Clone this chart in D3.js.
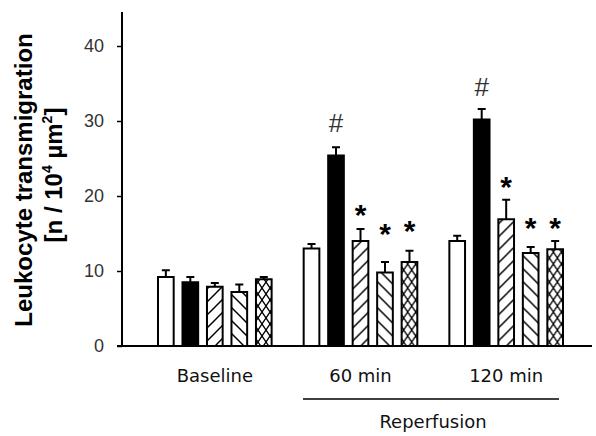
<!DOCTYPE html>
<html>
<head>
<meta charset="utf-8">
<title>Leukocyte transmigration</title>
<script src="https://cdnjs.cloudflare.com/ajax/libs/d3/7.8.5/d3.min.js"></script>
<style>
    body, html { margin: 0; padding: 0; background: #fff; }
    svg { display: block; font-family: Arial, "Liberation Sans", sans-serif; }
</style>
</head>
<body>
<div id="chart"></div>
<script>
    // groups and series
    var groups = ['Baseline', '60 min', '120 min'];
    var series = ['open', 'solid', 'fwd', 'back', 'cross'];
    var means = [
        [9.2, 8.5, 7.9, 7.2, 8.9],
        [13.0, 25.4, 14.0, 9.8, 11.2],
        [14.0, 30.2, 16.9, 12.4, 12.9]
    ];
    var errTop = [
        [10.1, 9.2, 8.4, 8.2, 9.2],
        [13.6, 26.5, 15.6, 11.2, 12.7],
        [14.7, 31.6, 19.5, 13.2, 14.0]
    ];
    // significance marks: [group, series, symbol, y value]
    var marks = [
        [1, 1, '#', 29.9], [1, 2, '*', 18.1], [1, 3, '*', 15.6], [1, 4, '*', 16.0],
        [2, 1, '#', 34.7], [2, 2, '*', 21.9], [2, 3, '*', 16.4], [2, 4, '*', 16.4]
    ];
    var yTicks = [0, 10, 20, 30, 40];

    var W = 596, H = 436;
    var svg = d3.select('#chart').append('svg').attr('width', W).attr('height', H);

    var defs = svg.append('defs');
    function hatch(id, d) {
        var p = defs.append('pattern').attr('id', id)
            .attr('patternUnits', 'userSpaceOnUse').attr('width', 13).attr('height', 13);
        p.append('rect').attr('width', 13).attr('height', 13).attr('fill', '#fff');
        d.forEach(function (s) {
            p.append('path').attr('d', s).attr('stroke', '#000').attr('stroke-width', 1.5).attr('fill', 'none');
        });
    }
    hatch('fwd', ['M-3,16 L16,-3', 'M-3,3 L3,-3', 'M10,16 L16,10']);
    hatch('back', ['M-3,-3 L16,16', 'M-3,10 L3,16', 'M10,-3 L16,3']);
    var cp = defs.append('pattern').attr('id', 'cross')
        .attr('patternUnits', 'userSpaceOnUse').attr('width', 8).attr('height', 12);
    cp.append('rect').attr('width', 8).attr('height', 12).attr('fill', '#fff');
    cp.append('path').attr('d', 'M0,0 L8,12 M8,0 L0,12')
        .attr('stroke', '#000').attr('stroke-width', 1.3).attr('fill', 'none');

    var fills = { open: '#fff', solid: '#000', fwd: 'url(#fwd)', back: 'url(#back)', cross: 'url(#cross)' };

    var y = d3.scaleLinear().domain([0, 40]).range([346, 46]);
    var x0 = d3.scaleBand().domain(groups).range([158, 563]).paddingInner(0.22).paddingOuter(0);
    var x1 = d3.scaleBand().domain(series).range([0, x0.bandwidth()]).paddingInner(0.36).paddingOuter(0);

    // y axis
    var yAxis = svg.append('g').attr('transform', 'translate(122,0)')
        .call(d3.axisLeft(y).tickValues(yTicks).tickSize(5).tickPadding(13));
    yAxis.select('.domain').remove();
    yAxis.selectAll('line').attr('stroke', '#000').attr('stroke-width', 1.5);
    yAxis.selectAll('text').attr('font-size', 18).attr('fill', '#333');
    svg.append('line').attr('x1', 122).attr('x2', 122).attr('y1', 12).attr('y2', y(0))
        .attr('stroke', '#000').attr('stroke-width', 2);
    svg.append('line').attr('x1', 117).attr('x2', 592).attr('y1', y(0)).attr('y2', y(0))
        .attr('stroke', '#000').attr('stroke-width', 2);

    // bars
    groups.forEach(function (g, gi) {
        var gg = svg.append('g').attr('transform', 'translate(' + x0(g) + ',0)');
        series.forEach(function (s, si) {
            var cx = x1(s) + x1.bandwidth() / 2;
            gg.append('line').attr('x1', cx).attr('x2', cx)
                .attr('y1', y(errTop[gi][si])).attr('y2', y(means[gi][si]))
                .attr('stroke', '#000').attr('stroke-width', 2);
            gg.append('line').attr('x1', cx - 4).attr('x2', cx + 4)
                .attr('y1', y(errTop[gi][si])).attr('y2', y(errTop[gi][si]))
                .attr('stroke', '#000').attr('stroke-width', 2);
            gg.append('rect').attr('x', x1(s)).attr('y', y(means[gi][si]))
                .attr('width', x1.bandwidth()).attr('height', y(0) - y(means[gi][si]))
                .attr('fill', fills[s]).attr('stroke', '#000').attr('stroke-width', 2);
        });
    });

    var catLabels = svg.append('g').attr('font-family', '"DejaVu Sans", Verdana, sans-serif')
        .attr('font-size', 18).attr('fill', '#111');
    groups.forEach(function (g) {
        catLabels.append('text').attr('x', x0(g) + x0.bandwidth() / 2).attr('y', 382)
            .attr('text-anchor', 'middle').text(g);
    });

    marks.forEach(function (m) {
        var g = groups[m[0]], s = series[m[1]];
        var cx = x0(g) + x1(s) + x1.bandwidth() / 2;
        var t = svg.append('text').attr('x', cx).attr('text-anchor', 'middle').text(m[2]);
        if (m[2] === '*') {
            t.attr('y', y(m[3]) + 15).attr('font-size', 30).attr('font-weight', 'bold');
        } else {
            t.attr('y', y(m[3]) + 10).attr('font-size', 26).attr('fill', '#333');
        }
    });

    // reperfusion bracket
    svg.append('line').attr('x1', 303).attr('x2', 559).attr('y1', 399).attr('y2', 399)
        .attr('stroke', '#000').attr('stroke-width', 1.5);
    catLabels.append('text').attr('x', 433).attr('y', 428).attr('text-anchor', 'middle')
        .text('Reperfusion');

    // y title
    var yt = svg.append('text').attr('transform', 'translate(32,180) rotate(-90)')
        .attr('text-anchor', 'middle').attr('font-weight', 'bold').attr('font-size', 24);
    yt.append('tspan').attr('x', 0).attr('y', 0).text('Leukocyte transmigration');
    var l2 = yt.append('tspan').attr('x', 5).attr('y', 30);
    l2.append('tspan').text('[n / 10');
    l2.append('tspan').attr('dy', -10).attr('font-size', 14).text('4');
    l2.append('tspan').attr('dy', 10).text(' µm');
    l2.append('tspan').attr('dy', -10).attr('font-size', 14).text('2');
    l2.append('tspan').attr('dy', 10).text(']');
</script>
</body>
</html>
